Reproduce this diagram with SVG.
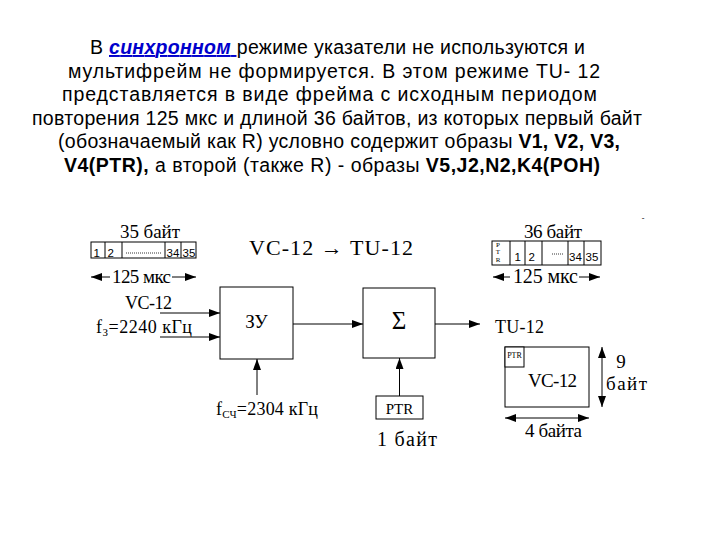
<svg xmlns="http://www.w3.org/2000/svg" width="720" height="540" viewBox="0 0 720 540">
<defs>
<marker id="ah" markerUnits="userSpaceOnUse" markerWidth="11" markerHeight="8" refX="11" refY="4" orient="auto-start-reverse" viewBox="0 0 11 8">
<path d="M0,0 L11,4 L0,8 z" fill="#000"/>
</marker>
<style>
.t{font-family:"Liberation Sans",Arial,sans-serif;font-size:19.5px;fill:#000}
.b{font-weight:bold}
.lnk{font-weight:bold;font-style:italic;fill:#0000cc;text-decoration:underline}
.s{font-family:"Liberation Serif","Times New Roman",serif;fill:#000}
.n{font-family:"Liberation Sans",Arial,sans-serif;font-size:11.5px;fill:#000}
.box{fill:#fff;stroke:#000;stroke-width:1}
.ln{stroke:#000;stroke-width:1;fill:none}
.arr{stroke:#000;stroke-width:1;fill:none;marker-end:url(#ah)}
.dbl{stroke:#000;stroke-width:1;fill:none;marker-start:url(#ah);marker-end:url(#ah)}
</style>
</defs>
<rect width="720" height="540" fill="#fff"/>

<g id="caption">
<text class="t" x="90" y="54" textLength="495">В <tspan class="lnk">синхронном </tspan>режиме указатели не используются и</text>
<text class="t" x="68" y="77.5" textLength="532">мультифрейм не формируется. В этом режиме TU- 12</text>
<text class="t" x="62" y="101" textLength="535">представляется в виде фрейма с исходным периодом</text>
<text class="t" x="32" y="124.5" textLength="610">повторения 125 мкс и длиной 36 байтов, из которых первый байт</text>
<text class="t" x="58" y="148" textLength="562">(обозначаемый как R) условно содержит образы <tspan class="b">V1, V2, V3,</tspan></text>
<text class="t" x="64" y="171.5" textLength="536"><tspan class="b">V4(PTR),</tspan> а второй (также R) - образы <tspan class="b">V5,J2,N2,K4(POH)</tspan></text>
</g>

<g id="vc-frame">
<text class="s" x="120" y="238" font-size="19" textLength="60">35 байт</text>
<rect class="box" x="91" y="242" width="105" height="16"/>
<path class="ln" d="M105,242V258M122,242V258M165,242V258M181,242V258"/>
<text class="n" x="93.5" y="256.5">1</text>
<text class="n" x="107.5" y="256.5">2</text>
<line x1="126" y1="253" x2="162" y2="253" stroke="#000" stroke-width="0.8" stroke-dasharray="1,1"/>
<text class="n" x="166.5" y="256.5">34</text>
<text class="n" x="182.5" y="256.5">35</text>
<text class="s" x="112" y="283" font-size="19" textLength="59">125 мкс</text>
</g>

<g id="tu-frame">
<text class="s" x="524" y="238" font-size="19" textLength="58">36 байт</text>
<rect class="box" x="492" y="241" width="109" height="24"/>
<path class="ln" d="M510,241V265M525,241V265M542,241V265M568,241V265M584,241V265"/>
<text class="s" x="498" y="247" font-size="7" text-anchor="middle">P</text>
<text class="s" x="498" y="254" font-size="7" text-anchor="middle">T</text>
<text class="s" x="498" y="262" font-size="7" text-anchor="middle">R</text>
<text class="n" x="514.5" y="260.5">1</text>
<text class="n" x="528.5" y="260.5">2</text>
<line x1="552" y1="254" x2="563" y2="254" stroke="#000" stroke-width="0.8" stroke-dasharray="1,1"/>
<text class="n" x="569" y="260.5">34</text>
<text class="n" x="585.5" y="260.5">35</text>
<text class="s" x="513" y="283" font-size="20" textLength="65">125 мкс</text>
<text class="s" x="643" y="221" font-size="8" fill="#888" text-anchor="middle">-</text>
</g>

<g id="heading">
<text class="s" x="249" y="255" font-size="22" textLength="164">VC-12 → TU-12</text>
</g>

<g id="zu">
<rect class="box" x="220" y="287" width="73" height="72"/>
<text class="s" x="256.5" y="328" font-size="19" text-anchor="middle">ЗУ</text>
</g>

<g id="sum">
<rect class="box" x="363" y="288" width="72" height="70"/>
<text class="s" x="399" y="329" font-size="25" text-anchor="middle">Σ</text>
</g>

<g id="ptr">
<rect class="box" x="376" y="396" width="47" height="23"/>
<text class="s" x="399.5" y="414" font-size="15" text-anchor="middle">PTR</text>
<text class="s" x="377" y="446" font-size="20" textLength="60">1 байт</text>
</g>

<g id="inputs">
<text class="s" x="125" y="309" font-size="18" textLength="47">VC-12</text>
<text class="s" x="96" y="333" font-size="18" textLength="96">f<tspan font-size="11" dy="3">З</tspan><tspan dy="-3">=2240 кГц</tspan></text>
<text class="s" x="216" y="415" font-size="18" textLength="102">f<tspan font-size="11" dy="3">СЧ</tspan><tspan dy="-3">=2304 кГц</tspan></text>
</g>

<g id="tu-structure">
<text class="s" x="495" y="333" font-size="18" textLength="49">TU-12</text>
<rect class="box" x="505" y="347" width="84" height="60"/>
<rect class="box" x="505" y="347" width="19" height="20"/>
<text class="s" x="514.5" y="358" font-size="8" text-anchor="middle">PTR</text>
<text class="s" x="528" y="387" font-size="19" textLength="49">VC-12</text>
<text class="s" x="621" y="368" font-size="19" text-anchor="middle">9</text>
<text class="s" x="606" y="390" font-size="19" textLength="41">байт</text>
<text class="s" x="525" y="437" font-size="19" textLength="57">4 байта</text>
</g>

<g id="connectors">
<line class="arr" x1="110" y1="277" x2="91" y2="277"/>
<line class="arr" x1="172" y1="277" x2="196" y2="277"/>
<line class="arr" x1="510" y1="277" x2="493" y2="277"/>
<line class="arr" x1="579" y1="277" x2="600" y2="277"/>
<line class="arr" x1="160" y1="313" x2="220" y2="313"/>
<line class="arr" x1="160" y1="337" x2="220" y2="337"/>
<line class="arr" x1="257" y1="395" x2="257" y2="359"/>
<line class="arr" x1="293" y1="324" x2="363" y2="324"/>
<line class="arr" x1="435" y1="324" x2="480" y2="324"/>
<line class="arr" x1="399.5" y1="396" x2="399.5" y2="358"/>
<line class="dbl" x1="602" y1="347" x2="602" y2="407"/>
<line class="dbl" x1="505" y1="418" x2="589" y2="418"/>
</g>
</svg>
